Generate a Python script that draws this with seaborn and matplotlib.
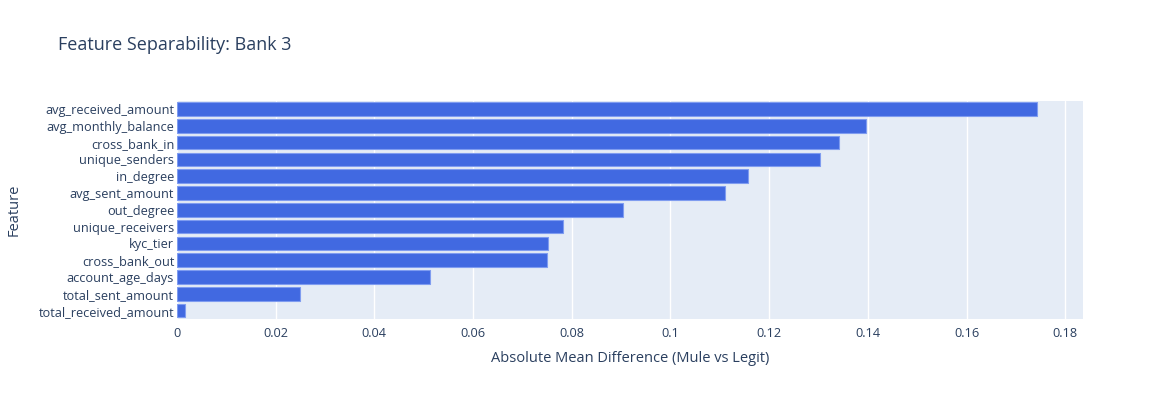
import pandas as pd
import matplotlib.pyplot as plt
import seaborn as sns

# Data
features = [
    "avg_received_amount", "avg_monthly_balance", "cross_bank_in", "unique_senders",
    "in_degree", "avg_sent_amount", "out_degree", "unique_receivers", "kyc_tier",
    "cross_bank_out", "account_age_days", "total_sent_amount", "total_received_amount",
]
abs_mean_diff = [
    0.1743, 0.1397, 0.1341, 0.1303, 0.1157, 0.1110, 0.0903, 0.0783, 0.0751,
    0.0750, 0.0512, 0.0250, 0.0016,
]

df = pd.DataFrame({"Feature": features, "diff": abs_mean_diff})

sns.set_style("white")
plt.rcParams["font.family"] = ["Open Sans", "DejaVu Sans"]
text_color = "#2a3f5f"

fig = plt.figure(figsize=(11.64, 4), dpi=100)
ax = fig.add_axes([0.152, 0.2025, 0.778, 0.546])
ax.set_facecolor("#E5ECF6")

sns.barplot(data=df, x="diff", y="Feature", orient="h", color="#4169E1",
            saturation=1, width=0.82, edgecolor="#7f9cf0", linewidth=0.8, ax=ax)

ax.set_xlim(0, 0.1835)
ax.set_xticks([0, 0.02, 0.04, 0.06, 0.08, 0.1, 0.12, 0.14, 0.16, 0.18])
ax.set_xticklabels(["0", "0.02", "0.04", "0.06", "0.08", "0.1", "0.12", "0.14", "0.16", "0.18"])
ax.grid(axis="x", color="white", linewidth=1)
ax.set_axisbelow(True)
for s in ax.spines.values():
    s.set_visible(False)
ax.tick_params(axis="both", length=0, labelsize=9.2, colors=text_color, pad=2)
ax.tick_params(axis="x", pad=6)

ax.set_xlabel("Absolute Mean Difference (Mule vs Legit)", fontsize=10.5, color=text_color)
ax.set_ylabel("Feature", fontsize=10.5, color=text_color)
ax.xaxis.set_label_coords(0.5, -0.145)
ax.yaxis.set_label_coords(-0.172, 0.5)

fig.text(58 / 1164, 1 - 45 / 400, "Feature Separability: Bank 3", fontsize=13,
         color=text_color, va="center", ha="left")

plt.savefig("out.png", dpi=100)
plt.close()
